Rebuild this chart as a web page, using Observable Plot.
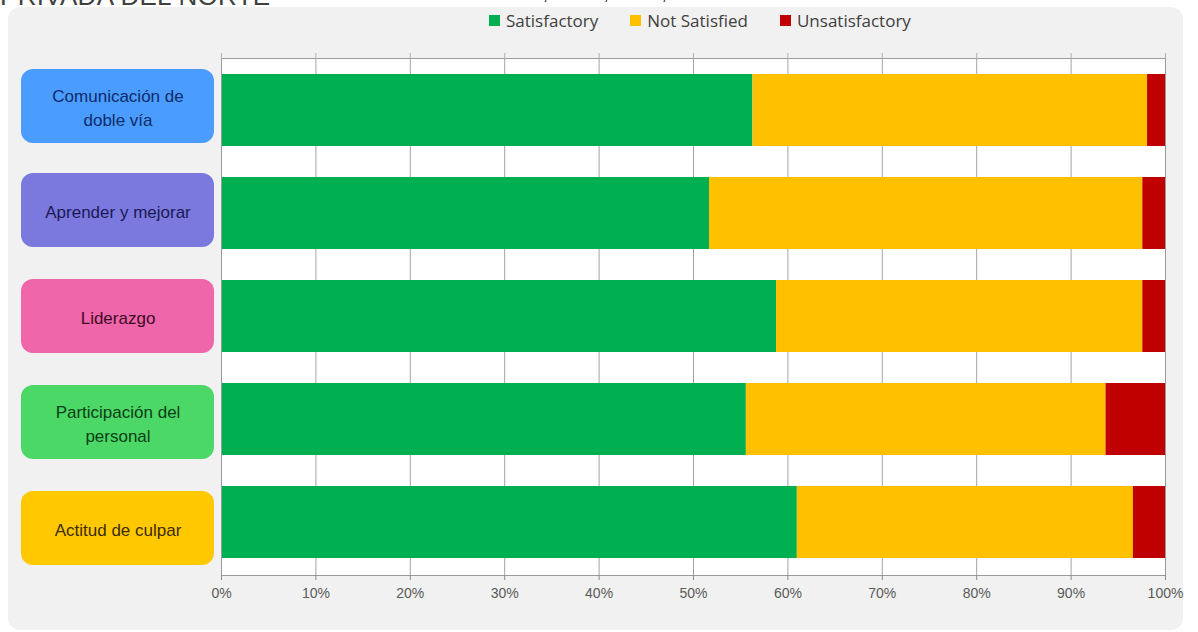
<!DOCTYPE html>
<html>
<head>
<meta charset="utf-8">
<script src="https://cdn.jsdelivr.net/npm/d3@7"></script>
<script src="https://cdn.jsdelivr.net/npm/@observablehq/plot@0.6"></script>
<style>
  html, body { margin: 0; padding: 0; background: #ffffff; }
  #wrap { position: relative; width: 1198px; height: 632px; overflow: hidden; background: #fff; }
  #panel { position: absolute; left: 8px; top: 7px; width: 1175px; height: 623px; background: #f1f1f1; border-radius: 12px; }
  #title { position: absolute; left: 0px; top: -19px; font: 26px "Liberation Sans", Arial, sans-serif; color: #404040; white-space: nowrap; letter-spacing: 0.3px; }
  #subtitle { position: absolute; left: 387px; width: 400px; top: -11px; text-align: center; font: bold 12px "Liberation Sans", Arial, sans-serif; color: #111; white-space: nowrap; }
  #legend { position: absolute; top: 9px; left: 489px; display: flex; align-items: center; font: 17px "Open Sans", sans-serif; color: #404040; white-space: nowrap; }
  #legend .item { display: flex; align-items: center; margin-right: 32px; }
  #legend .sw { width: 11px; height: 11px; margin-right: 6px; }
  #chart { position: absolute; left: 0; top: 0; }
  g[aria-label="box-label"] text { letter-spacing: 0.6px; }
</style>
</head>
<body>
<div id="wrap">
  <div id="panel"></div>
  <div id="title">PRIVADA DEL NORTE</div>
  <div id="subtitle">MAZATLÁN, SINALOA, AGOSTO, 2018</div>
  <div id="legend"></div>
  <div id="chart"></div>
</div>
<script>
// ---- data ----
const categories = ["Comunicación de doble vía", "Aprender y mejorar", "Liderazgo", "Participación del personal", "Actitud de culpar"];
const categoryLabels = ["Comunicación de\ndoble vía", "Aprender y mejorar", "Liderazgo", "Participación del\npersonal", "Actitud de culpar"];
const series = ["Satisfactory", "Not Satisfied", "Unsatisfactory"];
const satisfactory = [56.3, 51.7, 58.8, 55.6, 61.0];
const notSatisfied = [41.8, 45.9, 38.8, 38.1, 35.6];
const unsatisfactory = [1.9, 2.4, 2.4, 6.3, 3.4];
const xTicks = [0, 10, 20, 30, 40, 50, 60, 70, 80, 90, 100];

// ---- styles ----
const seriesColors = ["#00b050", "#ffc000", "#c00000"];
const boxColors = ["#4a9dff", "#7b78de", "#f066aa", "#4cd866", "#ffc800"];
const boxText = ["#0e2a6a", "#1c1a55", "#3d0a26", "#0a3d16", "#3d2c00"];
const boxShift = [-4, -3, 0, 3, 6];

const W = 1198, H = 632;
const ML = 221, MR = 33, MT = 58, MB = 57;
const boxLeft = 21, boxRight = 214;

const values = [satisfactory, notSatisfied, unsatisfactory];
const rows = [];
categories.forEach((c, i) => series.forEach((s, j) => rows.push({cat: c, series: s, value: values[j][i]})));

// legend
const legend = document.getElementById("legend");
series.forEach((s, j) => {
  const it = document.createElement("div");
  it.className = "item";
  it.innerHTML = `<span class="sw" style="background:${seriesColors[j]}"></span><span>${s}</span>`;
  legend.appendChild(it);
});

const boxMarks = [];
categories.forEach((c, i) => {
  boxMarks.push(Plot.cell([c], {
    y: d => d, fill: boxColors[i], rx: 12,
    insetLeft: boxLeft - ML, insetRight: (W - MR) - boxRight,
    insetTop: -1, insetBottom: -1, dy: boxShift[i]
  }));
  boxMarks.push(Plot.text([categoryLabels[i]], {
    y: () => c, text: d => d, frameAnchor: "left", textAnchor: "middle",
    dx: (boxLeft + boxRight) / 2 - ML, dy: boxShift[i],
    fill: boxText[i], fontSize: 17, lineHeight: 1.42,
    fontFamily: "Liberation Sans, Arial, sans-serif", ariaLabel: "box-label"
  }));
});

const chart = Plot.plot({
  width: W, height: H,
  marginLeft: ML, marginRight: MR, marginTop: MT, marginBottom: MB,
  style: {background: "transparent", fontFamily: "Liberation Sans, Arial, sans-serif"},
  x: {domain: [0, 100], axis: null},
  y: {domain: categories, axis: null, paddingInner: 0.3, paddingOuter: 0.137},
  color: {domain: series, range: seriesColors},
  marks: [
    Plot.frame({fill: "white", stroke: "none"}),
    Plot.gridX({ticks: xTicks, stroke: "#a3a3a3", strokeOpacity: 1}),
    Plot.barX(rows, {x: "value", y: "cat", fill: "series", order: series, inset: 0}),
    Plot.frame({stroke: "#9a9a9a", strokeOpacity: 1}),
    Plot.axisX({anchor: "top", ticks: xTicks, tickFormat: () => "", tickSize: 6, stroke: "#b0b0b0", label: null}),
    Plot.axisX({ticks: xTicks, tickFormat: d => d + "%", tickSize: 5, tickPadding: 8,
      fontSize: 14, stroke: "#8a8a8a", fill: "#5a5a5a", label: null}),
    ...boxMarks
  ]
});
document.getElementById("chart").appendChild(chart);
</script>
</body>
</html>
